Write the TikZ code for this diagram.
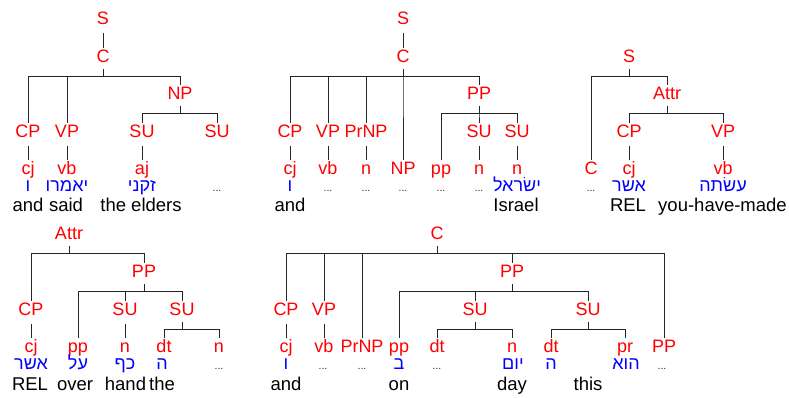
\documentclass[tikz,border=0pt]{standalone}
\usepackage{fontspec}
\setmainfont{Liberation Sans}
\newfontfamily\heb[Script=Hebrew]{Liberation Sans}
\TeXXeTstate=1
\definecolor{labred}{RGB}{255,0,0}
\definecolor{hebblue}{RGB}{0,0,255}
\tikzset{
  lab/.style={anchor=base, inner sep=0pt, text=labred, font=\fontsize{18}{20}\selectfont},
  hw/.style={anchor=base, inner sep=0pt, text=hebblue, font=\heb\fontsize{18}{20}\selectfont},
  gl/.style={anchor=base, inner sep=0pt, text=black, font=\fontsize{18.5}{20}\selectfont},
  el/.style={anchor=base, inner sep=0pt, text=black!85, font=\fontsize{10.5}{11}\selectfont},
  conn/.style={draw=black!85, line width=1pt},
}
\newcommand\forkto[2]{\draw[conn] ([yshift=-7pt]#1.base) -- ([yshift=-14pt]#1.base) -| ([yshift=14.3pt]#2.base);}
\newcommand\unito[2]{\draw[conn] ([yshift=-8.5pt]#1.base) -- ([yshift=14.3pt]#2.base);}
\begin{document}
\begin{tikzpicture}[x=1pt,y=-1pt]
\useasboundingbox (0,0) rectangle (789,397);
% ---------- tree 1 (top left)
\node[lab] (aS) at (103,24.3) {S};
\node[lab] (aC) at (103,62.3) {C};
\node[lab] (aCP) at (28,137.7) {CP};
\node[lab] (aVP) at (67,137.7) {VP};
\node[lab] (aNP) at (180,99) {NP};
\node[lab] (aSU1) at (142,137.7) {SU};
\node[lab] (aSU2) at (217,137.7) {SU};
\node[lab] (acj) at (28,174.3) {cj};
\node[lab] (avb) at (67,174.3) {vb};
\node[lab] (aaj) at (142,174.3) {aj};
\node[hw] (ah1) at (28,191.7) {\beginR ו\endR};
\node[hw] (ah2) at (67,191.7) {\beginR יאמרו\endR};
\node[hw] (ah3) at (142,191.7) {\beginR זקני\endR};
\node[el] (ah4) at (217,191.7) {...};
\node[gl] (ae1) at (28,211.7) {and};
\node[gl] (ae2) at (66,211.7) {said};
\node[gl] (ae3) at (141,211.7) {the elders};
\unito{aS}{aC}
\forkto{aC}{aCP}
\forkto{aC}{aVP}
\forkto{aC}{aNP}
\forkto{aNP}{aSU1}
\forkto{aNP}{aSU2}
\unito{aCP}{acj}
\unito{aVP}{avb}
\unito{aSU1}{aaj}
% ---------- tree 2 (top middle)
\node[lab] (bS) at (403,24.3) {S};
\node[lab] (bC) at (403,62.3) {C};
\node[lab] (bCP) at (290,137.7) {CP};
\node[lab] (bVP) at (328,137.7) {VP};
\node[lab] (bPrNP) at (366,137.7) {PrNP};
\node[lab] (bNP) at (403,174.3) {NP};
\node[lab] (bPP) at (479,99) {PP};
\node[lab] (bpp) at (441,174.3) {pp};
\node[lab] (bSU1) at (479,137.7) {SU};
\node[lab] (bSU2) at (517,137.7) {SU};
\node[lab] (bcj) at (290,174.3) {cj};
\node[lab] (bvb) at (328,174.3) {vb};
\node[lab] (bn1) at (366,174.3) {n};
\node[lab] (bn2) at (479,174.3) {n};
\node[lab] (bn3) at (517,174.3) {n};
\node[hw] (bh1) at (290,191.7) {\beginR ו\endR};
\node[el] (bh2) at (328,191.7) {...};
\node[el] (bh3) at (366,191.7) {...};
\node[el] (bh4) at (403,191.7) {...};
\node[el] (bh5) at (441,191.7) {...};
\node[el] (bh6) at (479,191.7) {...};
\node[hw] (bh7) at (517,191.7) {\beginR ישׂראל\endR};
\node[gl] (be1) at (290,211.7) {and};
\node[gl] (be2) at (516,211.7) {Israel};
\unito{bS}{bC}
\forkto{bC}{bCP}
\forkto{bC}{bVP}
\forkto{bC}{bPrNP}
\forkto{bC}{bNP}
\forkto{bC}{bPP}
\forkto{bPP}{bpp}
\forkto{bPP}{bSU1}
\forkto{bPP}{bSU2}
\unito{bCP}{bcj}
\unito{bVP}{bvb}
\unito{bPrNP}{bn1}
\unito{bSU1}{bn2}
\unito{bSU2}{bn3}
% ---------- tree 3 (top right)
\node[lab] (cS) at (629,62.3) {S};
\node[lab] (cAttr) at (667,99) {Attr};
\node[lab] (cC) at (591,174.3) {C};
\node[lab] (cCP) at (629,137.7) {CP};
\node[lab] (cVP) at (723,137.7) {VP};
\node[lab] (ccj) at (629,174.3) {cj};
\node[lab] (cvb) at (723,174.3) {vb};
\node[el] (ch1) at (591,191.7) {...};
\node[hw] (ch2) at (629,191.7) {\beginR אשר\endR};
\node[hw] (ch3) at (723,191.7) {\beginR עשׂתה\endR};
\node[gl] (ce1) at (628,211.7) {REL};
\node[gl] (ce2) at (722.5,211.7) {you-have-made};
\forkto{cS}{cC}
\forkto{cS}{cAttr}
\forkto{cAttr}{cCP}
\forkto{cAttr}{cVP}
\unito{cCP}{ccj}
\unito{cVP}{cvb}
% ---------- tree 4 (bottom left)
\node[lab] (dAttr) at (69,239.3) {Attr};
\node[lab] (dCP) at (31,315) {CP};
\node[lab] (dPP) at (144,277) {PP};
\node[lab] (dpp) at (78,352.3) {pp};
\node[lab] (dSU1) at (125,315) {SU};
\node[lab] (dSU2) at (182,315) {SU};
\node[lab] (dcj) at (31,352.3) {cj};
\node[lab] (dn1) at (125,352.3) {n};
\node[lab] (ddt) at (164,352.3) {dt};
\node[lab] (dn2) at (219,352.3) {n};
\node[hw] (dh1) at (31,369.5) {\beginR אשר\endR};
\node[hw] (dh2) at (78,369.5) {\beginR על\endR};
\node[hw] (dh3) at (125,369.5) {\beginR כף\endR};
\node[hw] (dh4) at (162,369.5) {\beginR ה\endR};
\node[el] (dh5) at (219,369.5) {...};
\node[gl] (de1) at (30,390) {REL};
\node[gl] (de2) at (75,390) {over};
\node[gl] (de3) at (125.5,390) {hand};
\node[gl] (de4) at (162,390) {the};
\forkto{dAttr}{dCP}
\forkto{dAttr}{dPP}
\forkto{dPP}{dpp}
\forkto{dPP}{dSU1}
\forkto{dPP}{dSU2}
\forkto{dSU2}{ddt}
\forkto{dSU2}{dn2}
\unito{dCP}{dcj}
\unito{dSU1}{dn1}
% ---------- tree 5 (bottom right)
\node[lab] (eC) at (437,239.3) {C};
\node[lab] (eCP) at (286,315) {CP};
\node[lab] (eVP) at (324,315) {VP};
\node[lab] (ePrNP) at (362,352.3) {PrNP};
\node[lab] (ePP) at (512,277) {PP};
\node[lab] (ePPb) at (664,352.3) {PP};
\node[lab] (epp) at (399,352.3) {pp};
\node[lab] (eSU1) at (475,315) {SU};
\node[lab] (eSU2) at (588,315) {SU};
\node[lab] (edt1) at (437,352.3) {dt};
\node[lab] (en) at (512,352.3) {n};
\node[lab] (edt2) at (551,352.3) {dt};
\node[lab] (epr) at (625,352.3) {pr};
\node[lab] (ecj) at (286,352.3) {cj};
\node[lab] (evb) at (324,352.3) {vb};
\node[hw] (eh1) at (286,369.5) {\beginR ו\endR};
\node[el] (eh2) at (323,369.5) {...};
\node[el] (eh3) at (362,369.5) {...};
\node[hw] (eh4) at (399,369.5) {\beginR ב\endR};
\node[el] (eh5) at (437,369.5) {...};
\node[hw] (eh6) at (513,369.5) {\beginR יום\endR};
\node[hw] (eh7) at (551,369.5) {\beginR ה\endR};
\node[hw] (eh8) at (626,369.5) {\beginR הוא\endR};
\node[el] (eh9) at (662,369.5) {...};
\node[gl] (ee1) at (286,390) {and};
\node[gl] (ee2) at (399,390) {on};
\node[gl] (ee3) at (512,390) {day};
\node[gl] (ee4) at (588,390) {this};
\forkto{eC}{eCP}
\forkto{eC}{eVP}
\forkto{eC}{ePrNP}
\forkto{eC}{ePP}
\forkto{eC}{ePPb}
\forkto{ePP}{epp}
\forkto{ePP}{eSU1}
\forkto{ePP}{eSU2}
\forkto{eSU1}{edt1}
\forkto{eSU1}{en}
\forkto{eSU2}{edt2}
\forkto{eSU2}{epr}
\unito{eCP}{ecj}
\unito{eVP}{evb}
\end{tikzpicture}
\end{document}
